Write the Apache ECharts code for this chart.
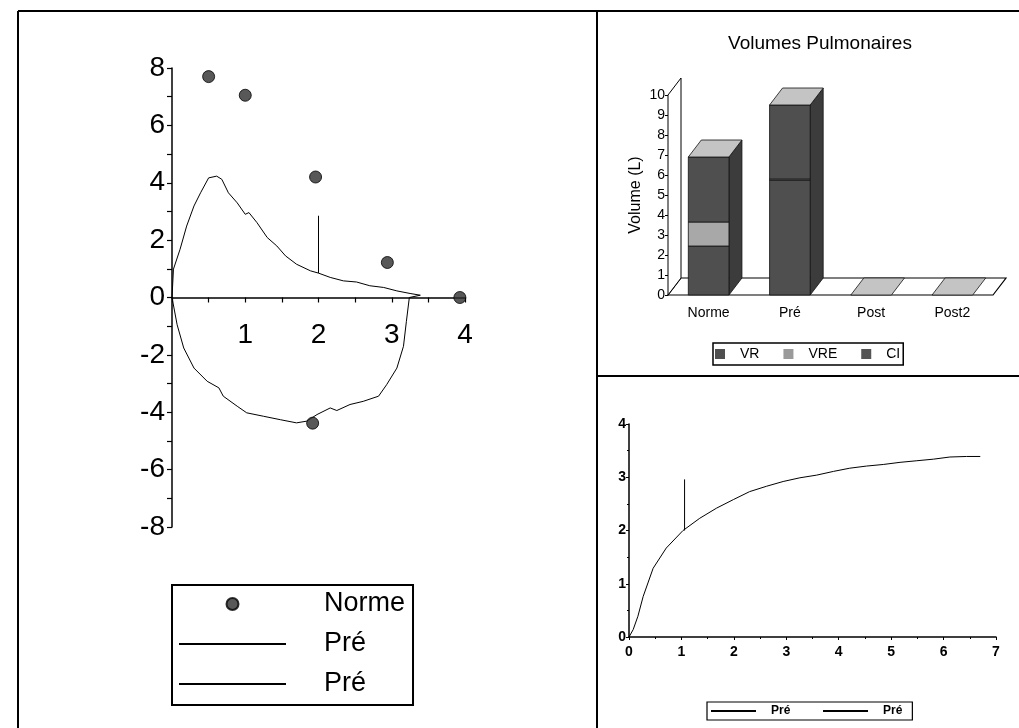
<!DOCTYPE html>
<html>
<head>
<meta charset="utf-8">
<script src="https://cdn.jsdelivr.net/npm/echarts@6/dist/echarts.min.js"></script>
<style>
html,body{margin:0;padding:0;background:#fff;}
#c{width:1019px;height:728px;}
</style>
</head>
<body>
<div id="c"></div>
<script>
// ---------- Left chart: flow-volume loop ----------
const normePoints = [[0.5, 7.7], [1.0, 7.05], [1.96, 4.2], [2.94, 1.22], [3.93, 0], [1.92, -4.38]];
const preLoop = [
  [0, 0], [0.02, 0.99], [0.11, 1.68], [0.2, 2.49], [0.3, 3.19], [0.39, 3.65], [0.5, 4.17],
  [0.61, 4.23], [0.68, 4.12], [0.77, 3.65], [0.89, 3.3], [1.0, 2.9], [1.05, 2.96], [1.16, 2.61],
  [1.3, 2.09], [1.43, 1.8], [1.55, 1.45], [1.7, 1.16], [1.89, 0.93], [2.0, 0.85], [2.16, 0.7],
  [2.34, 0.58], [2.52, 0.54], [2.7, 0.41], [2.89, 0.35], [3.07, 0.23], [3.25, 0.14], [3.39, 0.08],
  [3.24, 0], [3.2, -0.83], [3.16, -1.7], [3.07, -2.46], [2.93, -3.04], [2.82, -3.44], [2.61, -3.62],
  [2.43, -3.73], [2.25, -3.94], [2.16, -3.85], [1.98, -4.08], [1.84, -4.31], [1.7, -4.37],
  [1.48, -4.26], [1.25, -4.14], [1.02, -4.02], [0.89, -3.79], [0.7, -3.44], [0.64, -3.15],
  [0.48, -2.92], [0.3, -2.46], [0.16, -1.76], [0.07, -0.95], [0, 0]
];
const preMarkerLeft = [[2.0, 0.85], [2.0, 2.85]];

// ---------- Top right: lung volumes ----------
const volCategories = ['Norme', 'Pré', 'Post', 'Post2'];
const volVR  = [2.45, 5.75, 0, 0];
const volVRE = [1.2, 0.05, 0, 0];
const volCI  = [3.25, 3.7, 0, 0];

// ---------- Bottom right: volume-time curve ----------
const preCurve = [
  [0, 0], [0.08, 0.14], [0.17, 0.39], [0.27, 0.76], [0.46, 1.29], [0.71, 1.67], [1.03, 2.0],
  [1.35, 2.23], [1.67, 2.42], [1.99, 2.58], [2.3, 2.73], [2.62, 2.83], [2.94, 2.92], [3.26, 2.99],
  [3.58, 3.04], [3.9, 3.11], [4.21, 3.17], [4.53, 3.21], [4.85, 3.24], [5.17, 3.28], [5.49, 3.31],
  [5.81, 3.34], [6.12, 3.38], [6.44, 3.39], [6.7, 3.39]
];
const preMarkerRight = [[1.06, 2.0], [1.06, 2.96]];

const FONT = "'Liberation Sans', Arial, sans-serif";
const DEPTH_X = 13, DEPTH_Y = -17;

// stacked segments built from the arrays
function segs(vals, bases) {
  return vals.map((v, i) => [i, bases[i], bases[i] + v]);
}
const zeros = volCategories.map(() => 0);
const base2 = volVR.map(v => v);
const base3 = volVR.map((v, i) => v + volVRE[i]);
const vrData = segs(volVR, zeros);
const vreData = segs(volVRE, base2);
const ciData = segs(volCI, base3);

function makeBox(frontColor, isTop) {
  return function (params, api) {
    const cat = api.value(0), b = api.value(1), t = api.value(2);
    const p0 = api.coord([cat, b]);
    const p1 = api.coord([cat, t]);
    const bw = api.size([1, 0])[0] * 0.5;
    const xl = p0[0] - bw / 2, xr = p0[0] + bw / 2;
    const y0 = p0[1], y1 = p1[1];
    const children = [];
    if (y0 - y1 > 0.3) {
      children.push({
        type: 'rect', shape: { x: xl, y: y1, width: bw, height: y0 - y1 },
        style: { fill: frontColor, stroke: '#111', lineWidth: 0.8 }
      });
    }
    if (isTop) {
      children.push({
        type: 'polygon',
        shape: { points: [[xl, y1], [xl + DEPTH_X, y1 + DEPTH_Y], [xr + DEPTH_X, y1 + DEPTH_Y], [xr, y1]] },
        style: { fill: '#c4c4c4', stroke: '#111', lineWidth: 0.8 }
      });
    }
    return { type: 'group', children: children };
  };
}

// full-height dark side face for each bar (drawn under the front segments)
function renderSide(params, api) {
  const cat = api.value(0), t = api.value(2);
  const p0 = api.coord([cat, 0]);
  const p1 = api.coord([cat, t]);
  const bw = api.size([1, 0])[0] * 0.5;
  const xr = p0[0] + bw / 2;
  const y0 = p0[1], y1 = p1[1];
  if (y0 - y1 < 0.3) return { type: 'group', children: [] };
  return {
    type: 'polygon',
    shape: { points: [[xr, y1], [xr + DEPTH_X, y1 + DEPTH_Y], [xr + DEPTH_X, y0 + DEPTH_Y], [xr, y0]] },
    style: { fill: '#3c3c3c', stroke: '#111', lineWidth: 0.8 }
  };
}

function renderFrame(params, api) {
  const cs = params.coordSys;
  const gx = cs.x, gy = cs.y, gw = cs.width, gh = cs.height;
  const by = gy + gh;
  return {
    type: 'group',
    children: [
      { type: 'polygon', shape: { points: [[gx, by], [gx + DEPTH_X, by + DEPTH_Y], [gx + gw + DEPTH_X, by + DEPTH_Y], [gx + gw, by]] },
        style: { fill: '#fff', stroke: '#000', lineWidth: 1.2 } },
      { type: 'polygon', shape: { points: [[gx, by], [gx + DEPTH_X, by + DEPTH_Y], [gx + DEPTH_X, gy + DEPTH_Y], [gx, gy]] },
        style: { fill: '#fff', stroke: '#000', lineWidth: 1 } }
    ]
  };
}

const chart = echarts.init(document.getElementById('c'), null, { renderer: 'canvas' });

const axisLineBlack = { lineStyle: { color: '#000', width: 1.5 } };
const noDot = { opacity: 0 };

chart.setOption({
  backgroundColor: '#fff',
  animation: false,
  textStyle: { fontFamily: FONT, color: '#000' },
  title: {
    text: 'Volumes Pulmonaires', left: 815, top: 29, textAlign: 'center',
    textStyle: { fontFamily: FONT, fontSize: 19, fontWeight: 'normal', color: '#000' }
  },
  graphic: [
    { type: 'line', shape: { x1: 18, y1: 11, x2: 1019, y2: 11 }, style: { stroke: '#000', lineWidth: 2 } },
    { type: 'line', shape: { x1: 18, y1: 11, x2: 18, y2: 728 }, style: { stroke: '#000', lineWidth: 2 } },
    { type: 'line', shape: { x1: 597, y1: 11, x2: 597, y2: 728 }, style: { stroke: '#000', lineWidth: 2 } },
    { type: 'line', shape: { x1: 597, y1: 376, x2: 1019, y2: 376 }, style: { stroke: '#000', lineWidth: 2 } }
  ],
  legend: [
    {
      left: 172, top: 585, orient: 'vertical',
      data: [
        { name: 'Norme' },
        { name: 'Pré', itemStyle: noDot },
        { name: 'Pré ', itemStyle: noDot }
      ],
      itemWidth: 107, itemHeight: 12, itemGap: 10,
      padding: [4, 8, 6, 6],
      borderColor: '#000', borderWidth: 2,
      textStyle: { fontFamily: FONT, fontSize: 27, color: '#000', lineHeight: 30, padding: [0, 0, 0, 33] }
    },
    {
      left: 713, top: 343, orient: 'horizontal',
      data: ['VR', 'VRE', 'CI'],
      itemWidth: 10, itemHeight: 10, itemGap: 24,
      padding: [4, 3, 4, 2],
      borderColor: '#000', borderWidth: 1.5,
      icon: 'rect',
      textStyle: { fontFamily: FONT, fontSize: 14, color: '#000', padding: [0, 0, 0, 10] }
    },
    {
      left: 707, top: 702, orient: 'horizontal',
      data: [{ name: 'Pré  ', itemStyle: noDot }, { name: 'Pré   ', itemStyle: noDot }],
      itemWidth: 45, itemHeight: 8, itemGap: 25,
      padding: [3, 0, 3, 3],
      borderColor: '#000', borderWidth: 1.2,
      textStyle: { fontFamily: FONT, fontSize: 12, fontWeight: 'bold', color: '#000', padding: [0, 0, 0, 10] }
    }
  ],
  grid: [
    { left: 172, top: 68, width: 293, height: 459 },
    { left: 668, top: 95, width: 325, height: 200 },
    { left: 629, top: 424, width: 367, height: 213 },
    { left: 172, top: 68, width: 293, height: 229.5 }
  ],
  xAxis: [
    {
      gridIndex: 0, type: 'value', min: 0, max: 4, interval: 0.5,
      axisLine: { onZero: true, lineStyle: { color: '#000', width: 1.5 } },
      axisTick: { show: true, length: 5, lineStyle: { color: '#000', width: 1.2 } },
      splitLine: { show: false },
      axisLabel: { show: false }
    },
    {
      gridIndex: 1, type: 'category', data: volCategories,
      axisLine: { show: false }, axisTick: { show: false },
      axisLabel: { margin: 11, fontFamily: FONT, fontSize: 14, color: '#000' }
    },
    {
      gridIndex: 2, type: 'value', min: 0, max: 7, interval: 1,
      axisLine: axisLineBlack,
      axisTick: { show: true, length: 3, lineStyle: { color: '#000' } },
      minorTick: { show: true, splitNumber: 2, length: 2, lineStyle: { color: '#000' } },
      splitLine: { show: false },
      axisLabel: { margin: 8, fontFamily: FONT, fontSize: 14, fontWeight: 'bold', color: '#000' }
    },
    {
      gridIndex: 3, type: 'value', min: 0, max: 4, interval: 1,
      axisLine: { show: false }, axisTick: { show: false }, splitLine: { show: false },
      axisLabel: {
        margin: 24, fontFamily: FONT, fontSize: 28, color: '#000',
        formatter: v => (v > 0 ? String(v) : '')
      }
    }
  ],
  yAxis: [
    {
      gridIndex: 0, type: 'value', min: -8, max: 8, interval: 1,
      axisLine: axisLineBlack,
      axisTick: { show: true, length: 5, lineStyle: { color: '#000', width: 1.2 } },
      splitLine: { show: false },
      axisLabel: {
        margin: 7, fontFamily: FONT, fontSize: 28, color: '#000',
        formatter: v => (Math.round(v) % 2 === 0) ? String(v) : ''
      }
    },
    {
      gridIndex: 1, type: 'value', min: 0, max: 10, interval: 1,
      name: 'Volume (L)', nameLocation: 'middle', nameGap: 24, nameRotate: 90,
      nameTextStyle: { fontFamily: FONT, fontSize: 16, color: '#000' },
      axisLine: { show: true, lineStyle: { color: '#000', width: 1 } },
      axisTick: { show: true, length: 3, lineStyle: { color: '#000' } },
      splitLine: { show: false },
      axisLabel: { margin: 3, fontFamily: FONT, fontSize: 14, color: '#000' }
    },
    {
      gridIndex: 2, type: 'value', min: 0, max: 4, interval: 1,
      axisLine: axisLineBlack,
      axisTick: { show: true, length: 3, lineStyle: { color: '#000' } },
      minorTick: { show: true, splitNumber: 2, length: 2, lineStyle: { color: '#000' } },
      splitLine: { show: false },
      axisLabel: { margin: 3, fontFamily: FONT, fontSize: 14, fontWeight: 'bold', color: '#000' }
    },
    {
      gridIndex: 3, type: 'value', min: 0, max: 8, show: false
    }
  ],
  series: [
    // left chart
    {
      name: 'Pré', type: 'line', xAxisIndex: 0, yAxisIndex: 0, data: preLoop,
      symbol: 'none', smooth: false, lineStyle: { color: '#000', width: 1 }, itemStyle: { color: '#000' }, z: 3
    },
    {
      name: 'Pré ', type: 'line', xAxisIndex: 0, yAxisIndex: 0, data: preMarkerLeft,
      symbol: 'none', lineStyle: { color: '#000', width: 1 }, itemStyle: { color: '#000' }, z: 3
    },
    {
      name: 'Norme', type: 'scatter', xAxisIndex: 0, yAxisIndex: 0, data: normePoints,
      symbol: 'circle', symbolSize: 12,
      itemStyle: { color: '#2e2e2e', borderColor: '#000', borderWidth: 1 }, z: 4
    },
    // top right 3D bars
    {
      type: 'custom', name: 'frame', xAxisIndex: 1, yAxisIndex: 1, data: [[0, 0]],
      renderItem: renderFrame, silent: true, z: 1
    },
    {
      type: 'custom', name: 'side', xAxisIndex: 1, yAxisIndex: 1, data: ciData,
      renderItem: renderSide, silent: true, z: 1.5
    },
    {
      type: 'custom', name: 'VR', xAxisIndex: 1, yAxisIndex: 1, data: vrData,
      renderItem: makeBox('#4f4f4f', false), itemStyle: { color: '#4f4f4f' }, z: 2
    },
    {
      type: 'custom', name: 'VRE', xAxisIndex: 1, yAxisIndex: 1, data: vreData,
      renderItem: makeBox('#a8a8a8', false), itemStyle: { color: '#9a9a9a' }, z: 2
    },
    {
      type: 'custom', name: 'CI', xAxisIndex: 1, yAxisIndex: 1, data: ciData,
      renderItem: makeBox('#4f4f4f', true), itemStyle: { color: '#555555' }, z: 2
    },
    // bottom right
    {
      name: 'Pré  ', type: 'line', xAxisIndex: 2, yAxisIndex: 2, data: preCurve,
      symbol: 'none', lineStyle: { color: '#000', width: 1 }, itemStyle: { color: '#000' }
    },
    {
      name: 'Pré   ', type: 'line', xAxisIndex: 2, yAxisIndex: 2, data: preMarkerRight,
      symbol: 'none', lineStyle: { color: '#000', width: 1 }, itemStyle: { color: '#000' }
    }
  ]
});
</script>
</body>
</html>
